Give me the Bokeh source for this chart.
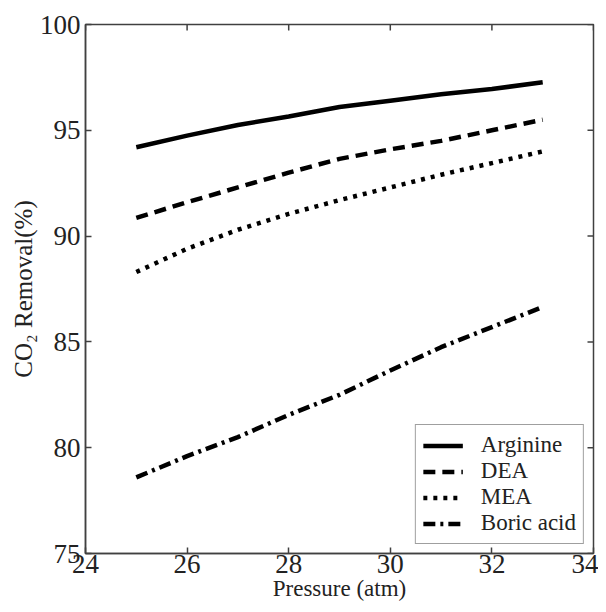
import math
from bokeh.plotting import figure
from bokeh.models import FixedTicker, Legend, LegendItem, Range1d
from bokeh.embed import file_html
from bokeh.resources import INLINE

pressure = [25, 26, 27, 28, 29, 30, 31, 32, 33]
arginine = [94.2, 94.75, 95.25, 95.65, 96.1, 96.4, 96.7, 96.95, 97.27]
dea = [90.86, 91.6, 92.3, 93.0, 93.65, 94.1, 94.5, 95.0, 95.5]
mea = [88.3, 89.4, 90.3, 91.05, 91.7, 92.3, 92.9, 93.45, 94.0]
boric = [78.6, 79.6, 80.5, 81.55, 82.5, 83.65, 84.75, 85.7, 86.65]

x_ticks = [24, 26, 28, 30, 32, 34]
y_ticks = [75, 80, 85, 90, 95, 100]
x_min, x_max = 24, 34
y_min, y_max = 75, 100

FONT = "Liberation Serif"
AXC = "#404040"
TXT = "#222222"

p = figure(width=598, height=612, output_backend="svg", toolbar_location=None,
           x_range=Range1d(x_min, x_max), y_range=Range1d(y_min, y_max),
           min_border_left=85, min_border_right=5, min_border_top=24, min_border_bottom=59,
           x_axis_label="Pressure (atm)", y_axis_label="CO₂ Removal(%)")
p.grid.visible = False
p.outline_line_color = AXC
p.outline_line_width = 1.5
p.background_fill_color = "white"
p.border_fill_color = "white"

for ax in (p.xaxis[0], p.yaxis[0]):
    ax.axis_line_color = AXC
    ax.axis_line_width = 1.5
    ax.major_tick_line_color = AXC
    ax.major_tick_line_width = 1.5
    ax.major_tick_in = 6
    ax.major_tick_out = 0
    ax.minor_tick_line_color = None
    ax.major_label_text_font = FONT
    ax.major_label_text_font_size = "27px"
    ax.major_label_text_font_style = "normal"
    ax.major_label_text_color = TXT
    ax.axis_label_text_font = FONT
    ax.axis_label_text_font_style = "normal"
    ax.axis_label_text_color = TXT
    ax.axis_label_standoff = 0

p.xaxis[0].ticker = FixedTicker(ticks=x_ticks)
p.yaxis[0].ticker = FixedTicker(ticks=y_ticks)
p.xaxis[0].major_label_standoff = 1
p.yaxis[0].major_label_standoff = 5
p.xaxis[0].axis_label_text_font_size = "23px"
p.yaxis[0].axis_label_text_font_size = "25px"

# mirrored inward ticks on the top and right edges of the box
p.ray(x=x_ticks, y=[y_max] * len(x_ticks), length=6, length_units="screen",
      angle=-math.pi / 2, line_color=AXC, line_width=1.5)
p.ray(x=[x_max] * len(y_ticks), y=y_ticks, length=6, length_units="screen",
      angle=math.pi, line_color=AXC, line_width=1.5)

lw = 4.5
r1 = p.line(pressure, arginine, line_color="black", line_width=lw)
r2 = p.line(pressure, dea, line_color="black", line_width=lw, line_dash="12 7")
r3 = p.line(pressure, mea, line_color="black", line_width=lw, line_dash="4 6")
r4 = p.line(pressure, boric, line_color="black", line_width=lw, line_dash="12 5 3 5")

legend = Legend(items=[LegendItem(label="Arginine", renderers=[r1]),
                       LegendItem(label="DEA", renderers=[r2]),
                       LegendItem(label="MEA", renderers=[r3]),
                       LegendItem(label="Boric acid", renderers=[r4])],
                location="bottom_right")
legend.label_text_font = FONT
legend.label_text_font_style = "normal"
legend.label_text_font_size = "23px"
legend.label_text_color = TXT
legend.border_line_color = AXC
legend.border_line_width = 1.5
legend.glyph_width = 40
legend.glyph_height = 25
legend.label_height = 25
legend.label_standoff = 18
legend.spacing = 0
legend.padding = 7
legend.margin = 9
legend.background_fill_alpha = 1
p.add_layout(legend, "center")

open("out.html", "w").write(file_html(p, INLINE))
